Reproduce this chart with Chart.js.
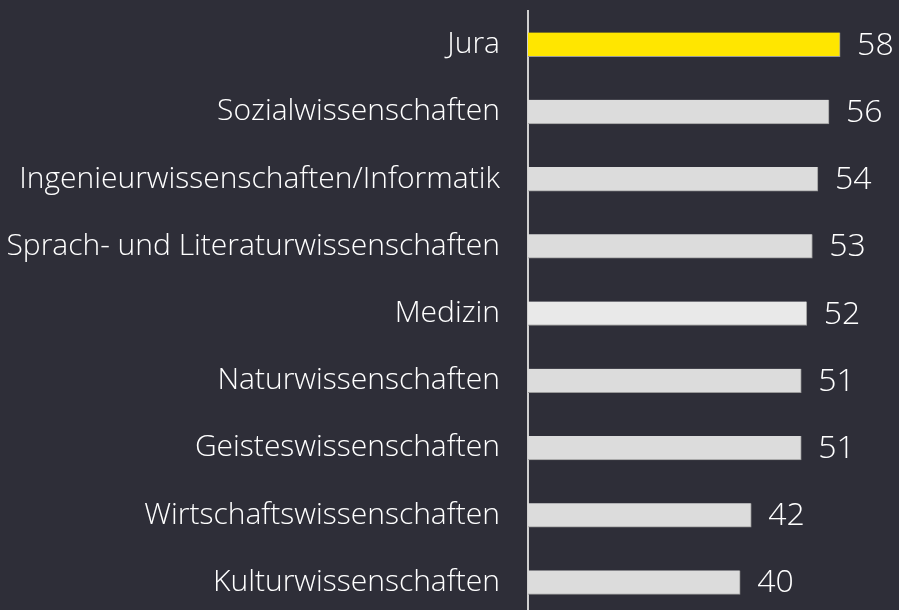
<!DOCTYPE html>
<html>
<head>
<meta charset="utf-8">
<script src="https://cdn.jsdelivr.net/npm/chart.js@4"></script>
<style>
  html, body { margin: 0; padding: 0; background: #2e2e38; overflow: hidden; }
  #wrap { width: 899px; height: 616px; }
</style>
</head>
<body>
<div id="wrap"><canvas id="chart"></canvas></div>
<script>
// Studienfächer und Werte
const categories = [
  "Jura",
  "Sozialwissenschaften",
  "Ingenieurwissenschaften/Informatik",
  "Sprach- und Literaturwissenschaften",
  "Medizin",
  "Naturwissenschaften",
  "Geisteswissenschaften",
  "Wirtschaftswissenschaften",
  "Kulturwissenschaften",
];
const values = [58, 56, 54, 53, 52, 51, 51, 42, 40];
const barColors = ["#ffe600", "#dcdcdc", "#dcdcdc", "#dcdcdc", "#e9e9e9", "#dcdcdc", "#dcdcdc", "#dcdcdc", "#dcdcdc"];

const FONT = "'Open Sans', 'Noto Sans', sans-serif";

// Werte rechts neben den Balken
const valueLabels = {
  id: "valueLabels",
  afterDatasetsDraw(chart) {
    const ctx = chart.ctx;
    const meta = chart.getDatasetMeta(0);
    ctx.save();
    ctx.fillStyle = "#ffffff";
    ctx.font = "300 32px " + FONT;
    ctx.textAlign = "left";
    ctx.textBaseline = "middle";
    meta.data.forEach((bar, i) => {
      ctx.fillText(values[i], bar.x + 17, bar.y + 1);
    });
    ctx.restore();
  },
};

new Chart(document.getElementById("chart").getContext("2d"), {
  type: "bar",
  data: {
    labels: categories,
    datasets: [
      {
        data: values,
        backgroundColor: barColors,
        borderColor: "#9a9a9a",
        borderWidth: { top: 0, left: 0, right: 1, bottom: 1 },
        borderSkipped: false,
        barThickness: 24,
      },
    ],
  },
  options: {
    indexAxis: "y",
    responsive: true,
    maintainAspectRatio: false,
    animation: false,
    layout: { padding: { top: 11, right: 20, bottom: 0, left: 0 } },
    plugins: {
      legend: { display: false },
      tooltip: { enabled: false },
    },
    scales: {
      x: {
        display: false,
        min: 1.8,
        max: 65,
      },
      y: {
        afterFit: (s) => {
          s.width = 528;
          s.paddingTop = 0;
          s.paddingBottom = 0;
        },
        grid: { display: false, drawTicks: false },
        border: { display: true, color: "#d0d0d0", width: 2 },
        ticks: {
          color: "#ffffff",
          padding: 28,
          font: { family: FONT, size: 30, weight: 300 },
        },
      },
    },
  },
  plugins: [valueLabels],
});
</script>
</body>
</html>
